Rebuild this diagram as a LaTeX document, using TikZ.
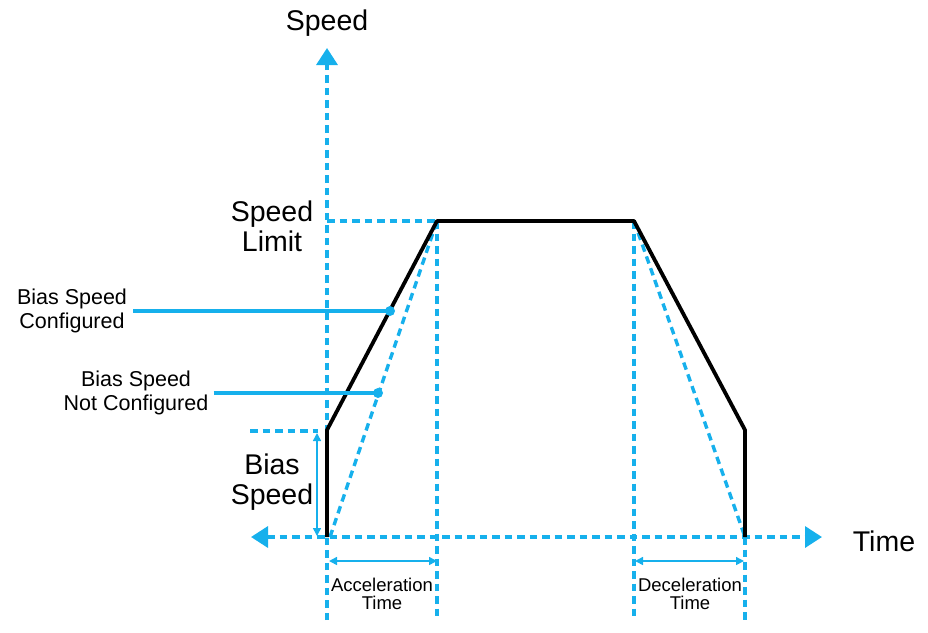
\documentclass[tikz,border=0pt]{standalone}
\usepackage{fontspec}
\setmainfont{Liberation Sans}
\usetikzlibrary{arrows.meta}
\definecolor{cyanb}{RGB}{22,176,236}
\begin{document}
\begin{tikzpicture}[x=1pt,y=-1pt,
  dsh/.style={cyanb,line width=3.4pt,dash pattern=on 7.5pt off 5pt},
  prof/.style={black,line width=3.8pt,line join=round},
  lead/.style={cyanb,line width=3.2pt},
  dim/.style={cyanb,line width=1.5pt,{Triangle[length=8pt,width=8pt]}-{Triangle[length=8pt,width=8pt]}},
  big/.style={font=\fontsize{28.5}{30}\selectfont,align=center,inner sep=0pt},
  mid/.style={font=\fontsize{21.5}{24}\selectfont,align=center,inner sep=0pt},
  small/.style={font=\fontsize{18.5}{18.5}\selectfont,align=center,inner sep=0pt},
  axis1/.style={dsh,-{Triangle[length=17pt,width=21pt]}},
  axis2/.style={dsh,{Triangle[length=17pt,width=21pt]}-{Triangle[length=17pt,width=21pt]}}
]
\useasboundingbox (0,0) rectangle (928,632);
% key points
\coordinate (O) at (327,537);
\coordinate (Ybot) at (327,620);
\coordinate (Ytop) at (327,48);
\coordinate (Xl) at (251,537);
\coordinate (Xr) at (822,537);
\coordinate (B) at (327,430);
\coordinate (A1) at (437,221);
\coordinate (A2) at (634,221);
\coordinate (B2) at (745,430);
\coordinate (E) at (745,537);
\coordinate (A1b) at (437,620);
\coordinate (A2b) at (634,620);
\coordinate (Eb) at (745,620);
\coordinate (D0) at (330,537);
\coordinate (BL) at (250,431);
\coordinate (BR) at (318,431);
\coordinate (d1) at (390,311);
\coordinate (d2) at (378,393);
% axes
\draw[axis1] (Ybot) -- (Ytop);
\draw[axis2] (Xl) -- (Xr);
% guide lines
\draw[dsh] (O |- A1) -- (A1);
\draw[dsh] (A1) -- (A1b);
\draw[dsh] (A2) -- (A2b);
\draw[dsh] (E) -- (Eb);
\draw[dsh] (D0) -- (A1);
\draw[dsh] (A2) -- (E);
\draw[dsh] (BL) -- (BR);
% profile
\draw[prof] (O) -- (B) -- (A1) -- (A2) -- (B2) -- (E);
% dimension arrows
\draw[dim] (317,433) -- (317,536);
\draw[dim] (329,561) -- (437,561);
\draw[dim] (635,561) -- (744,561);
% labels
\node[big] (ls) at (327,23) {Speed};
\node[big] (lt) at (884,541) {Time};
\node[big] (lsl) at (272,226) {Speed\\Limit};
\node[big] (lbs) at (272,482) {Bias\\Speed};
\node[mid] (l1) at (72,311) {Bias Speed\\Configured};
\node[mid] (l2) at (136,393) {Bias Speed\\Not Configured};
\node[small] (lacc) at (382,594) {Acceleration\\Time};
\node[small] (ldec) at (690,594) {Deceleration\\Time};
% leaders
\draw[lead] (l1.east |- d1) ++(6pt,0) -- (d1);
\fill[cyanb] (d1) circle (5pt);
\draw[lead] (l2.east |- d2) ++(5pt,0) -- (d2);
\fill[cyanb] (d2) circle (5pt);
\end{tikzpicture}
\end{document}
